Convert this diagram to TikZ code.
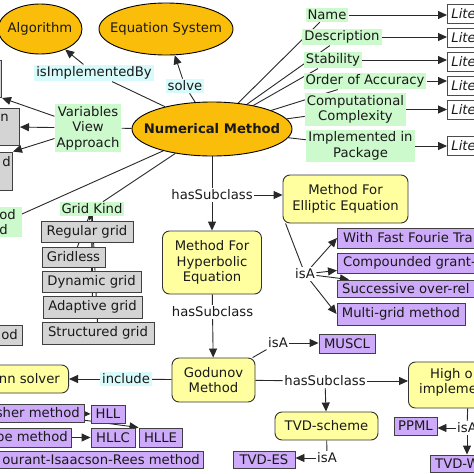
\documentclass[tikz,border=0pt]{standalone}
\usepackage{fontspec}
\setmainfont{DejaVu Sans}
\usetikzlibrary{shapes.geometric,arrows.meta}
\definecolor{ellfill}{RGB}{250,190,10}
\definecolor{yfill}{RGB}{255,255,160}
\definecolor{gfill}{RGB}{205,250,205}
\definecolor{cfill}{RGB}{215,250,250}
\definecolor{grfill}{RGB}{212,212,212}
\definecolor{pfill}{RGB}{205,170,250}
\definecolor{edgec}{RGB}{40,40,40}
\definecolor{txtc}{RGB}{25,25,25}
\pgfdeclarelayer{bglayer}
\pgfdeclarelayer{edges}
\pgfsetlayers{bglayer,edges,main}
\begin{document}
\begin{tikzpicture}[x=1pt,y=-1pt, font=\fontsize{13.2}{15.5}\selectfont, text=txtc,
 ellnode/.style={ellipse, draw=black, line width=0.9pt, fill=ellfill, inner sep=0pt},
 ybox/.style={rectangle, rounded corners=7pt, draw=black!80, line width=0.9pt, fill=yfill, align=center, inner sep=0pt},
 gbox/.style={rectangle, draw=black!75, line width=0.9pt, fill=grfill, inner sep=0pt},
 pbox/.style={rectangle, draw=black!75, line width=0.9pt, fill=pfill, inner sep=0pt},
 lbox/.style={rectangle, draw=black!70, line width=0.8pt, fill=white, anchor=west, text width=44pt, align=left, inner xsep=4pt, inner ysep=0pt, minimum height=19pt, font=\fontsize{13.2}{15.5}\selectfont\itshape},
 glab/.style={fill=gfill, inner sep=2pt, align=center},
 clab/.style={fill=cfill, inner sep=2pt},
 wlab/.style={fill=white, inner sep=1.5pt},
 txt/.style={inner sep=0pt},
 conn/.style={draw=edgec, line width=0.9pt},
 arr/.style={conn, -{Triangle[length=9pt,width=8pt]}}
]
\useasboundingbox (0,0) rectangle (474,474);
\begin{pgfonlayer}{bglayer}
\fill[white] (0,0) rectangle (474,474);
\end{pgfonlayer}

% ellipses
\node[ellnode, minimum width=84pt, minimum height=50pt] (alg) at (40,29) {};
\node[txt] (algt) at (alg) {Algorithm};
\node[ellnode, minimum width=134pt, minimum height=52pt] (eqs) at (166,29) {};
\node[txt] (eqst) at (eqs) {Equation System};
\node[ellnode, minimum width=160pt, minimum height=54pt] (nm) at (212,129) {};
\node[txt, font=\fontsize{13.2}{15.5}\selectfont\bfseries] (nmt) at (nm) {Numerical Method};

% top labels
\node[clab] (isimp) at (94,73) {isImplementedBy};
\node[clab] (solve) at (185,86) {solve};

% right property labels
\node[glab] (name) at (327,15) {Name};
\node[glab] (desc) at (342,37) {Description};
\node[glab] (stab) at (333,60) {Stability};
\node[glab] (order) at (365,81) {Order of Accuracy};
\node[glab] (compx) at (355.5,109.5) {Computational\\Complexity};
\node[glab] (impl) at (360.5,146) {Implemented in\\Package};

\node[lbox] (l1) at (447,14) {Lite};
\node[lbox] (l2) at (447,38) {Lite};
\node[lbox] (l3) at (447,62) {Lite};
\node[lbox] (l4) at (447,86) {Lite};
\node[lbox] (l5) at (447,110) {Lite};
\node[lbox] (l6) at (447,146) {Lite};

% left side
\node[glab] (vva) at (88,128) {Variables\\View\\Approach};
\node[gbox, minimum width=80pt, minimum height=37pt, anchor=east] (boxtop) at (2,79) {};
\node[gbox, minimum width=80pt, minimum height=37pt, anchor=east] (boxn) at (20,126.5) {};
\node[txt, anchor=east] (boxnt) at (9,118) {n};
\node[gbox, minimum width=80pt, minimum height=38pt, anchor=east] (boxd) at (13,171) {};
\node[txt, anchor=east] (boxdt) at (11,162) {d};
\node[glab, minimum width=80pt, minimum height=30pt, anchor=east] (dmeth) at (22,222) {};
\node[txt, anchor=east] (dmetha) at (16,215) {od};
\node[txt, anchor=east] (dmethb) at (8,230) {d};
\node[gbox, minimum width=80pt, minimum height=20pt, anchor=east] (odbox) at (23,335) {};
\node[txt, anchor=east] (odboxt) at (18,335) {od};

% grid kinds
\node[glab] (gk) at (92,209) {Grid Kind};
\node[gbox, minimum width=92pt, minimum height=21pt] (g1) at (87,231.5) {Regular grid};
\node[gbox, minimum width=63pt, minimum height=20pt] (g2) at (73.5,257) {Gridless};
\node[gbox, minimum width=99pt, minimum height=21pt] (g3) at (91.5,281.5) {Dynamic grid};
\node[gbox, minimum width=99pt, minimum height=22pt] (g4) at (92.5,307) {Adaptive grid};
\node[gbox, minimum width=112pt, minimum height=22pt] (g5) at (98,333) {Structured grid};

% middle column
\node[wlab] (hs1) at (212,195) {hasSubclass};
\node[ybox, minimum width=99pt, minimum height=63pt] (hyp) at (212,262.5) {Method For\\Hyperbolic\\Equation};
\node[ybox, minimum width=125pt, minimum height=48pt] (ellip) at (345.5,199) {Method For\\Elliptic Equation};
\node[wlab] (hs2) at (212.5,312) {hasSubclass};
\node[ybox, minimum width=83pt, minimum height=44pt] (god) at (213.5,380) {Godunov\\Method};
\node[wlab] (isa1) at (278,343) {isA};
\node[pbox, minimum width=56pt, minimum height=19pt] (muscl) at (347,343.5) {MUSCL};
\node[clab] (incl) at (126,379) {include};
\node[ybox, minimum width=100pt, minimum height=28pt, anchor=east] (riem) at (69,379) {};
\node[txt, anchor=east] (riemt) at (60,379) {nn solver};
\node[wlab] (hs3) at (325,381) {hasSubclass};
\node[ybox, minimum width=120pt, minimum height=46pt, anchor=west] (high) at (408,385) {};
\node[txt, anchor=west] (higha) at (430,375) {High o};
\node[txt, anchor=west] (highb) at (419,390) {impleme};
\node[ybox, minimum width=103pt, minimum height=28pt] (tvd) at (326.5,426) {TVD-scheme};
\node[wlab] (isa2) at (327,458) {isA};
\node[pbox, minimum width=62pt, minimum height=17pt] (tvdes) at (264,459.5) {TVD-ES};
\node[pbox, minimum width=43pt, minimum height=18pt] (ppml) at (415.5,426) {PPML};
\node[wlab] (isa3) at (467,428) {isA};
\node[pbox, minimum width=80pt, minimum height=17pt, anchor=west] (tvdw) at (430,463.5) {};
\node[txt, anchor=west] (tvdwt) at (435,463.5) {TVD-W};

% bottom-left purple boxes
\node[pbox, minimum width=100pt, minimum height=18pt, anchor=east] (sher) at (85,413.5) {};
\node[txt, anchor=east] (shert) at (80,413) {sher method};
\node[pbox, minimum width=34pt, minimum height=18pt] (hll) at (108,414) {HLL};
\node[pbox, minimum width=100pt, minimum height=19pt, anchor=east] (be) at (72,437.5) {};
\node[txt, anchor=east] (bet) at (68,437) {be method};
\node[pbox, minimum width=44pt, minimum height=19pt] (hllc) at (113,437.5) {HLLC};
\node[pbox, minimum width=43pt, minimum height=19pt] (hlle) at (160.5,437.5) {HLLE};
\node[pbox, minimum width=220pt, minimum height=17pt, anchor=east] (cir) at (204,460) {};
\node[txt, anchor=east] (cirt) at (200,460) {ourant-Isaacson-Rees method};

% elliptic children
\node[wlab] (isa4) at (305,274) {isA};
\node[pbox, minimum width=150pt, minimum height=20pt, anchor=west] (fft) at (337,238) {};
\node[txt, anchor=west] (fftt) at (343,238) {With Fast Fourie Tra};
\node[pbox, minimum width=150pt, minimum height=20pt, anchor=west] (cgr) at (337,263) {};
\node[txt, anchor=west] (cgrt) at (343,263) {Compounded grant-};
\node[pbox, minimum width=150pt, minimum height=17pt, anchor=west] (sor) at (337,288.5) {};
\node[txt, anchor=west] (sort) at (342,288.5) {Successive over-rel};
\node[pbox, minimum width=128pt, minimum height=22pt] (mg) at (401,314) {Multi-grid method};

\begin{pgfonlayer}{edges}
\draw[conn] (nm) -- (isimp);
\draw[arr] (isimp) -- (alg);
\draw[conn] (nm) -- (solve);
\draw[arr] (solve) -- (eqs);
\foreach \t in {name,desc,stab,order,compx,impl} \draw[conn] (nm) -- (\t);
\draw[arr] (name.east) -- (name.east -| l1.west);
\draw[arr] (desc.east) -- (desc.east -| l2.west);
\draw[arr] (stab.east) -- (stab.east -| l3.west);
\draw[arr] (order.east) -- (order.east -| l4.west);
\draw[arr] (compx.east) -- (compx.east -| l5.west);
\draw[arr] (impl.east) -- (impl.east -| l6.west);

\draw[conn] (nm) -- (vva);
\draw[arr] (vva) -- (boxtop.south east);
\draw[arr] (vva) -- (boxn);
\draw[arr] (vva) -- (boxd.north east);
\draw[conn] (nm) -- ([yshift=8pt]dmeth.east);

\draw[conn] (nm) -- (gk);
\draw[arr] (gk) -- (g1);
\draw[conn] (gk) -- (g2.center);
\draw[conn] (gk) -- (g3.center);
\draw[conn] (gk) -- (g4.center);
\draw[conn] (gk) -- (g5.center);

\draw[conn] (nm) -- (hs1);
\draw[arr] (hs1) -- (hyp);
\draw[arr] (hs1) -- (hs1 -| ellip.west);
\draw[conn] (hyp) -- (hs2);
\draw[arr] (hs2) -- (god);
\draw[conn] (god) -- (isa1);
\draw[arr] (isa1) -- (isa1 -| muscl.west);
\draw[conn] (god) -- (incl);
\draw[arr] (incl) -- (incl -| riem.east);
\draw[conn] (god) -- (hs3);
\draw[arr] (hs3) -- (hs3 -| high.west);
\draw[arr] (hs3) -- (tvd);
\draw[conn] (tvd) -- (isa2);
\draw[arr] (isa2) -- (isa2 -| tvdes.east);
\draw[conn] (high) -- (isa3);
\draw[arr] (isa3) -- (isa3 -| ppml.east);
\draw[arr] (isa3) -- (isa3 |- tvdw.north);

\draw[conn] ([xshift=3pt]ellip.south west) -- (isa4);
\draw[arr] (isa4) -- (fft.west);
\draw[arr] (isa4) -- ([yshift=3pt]cgr.south west);
\draw[arr] (isa4) -- ([xshift=12pt]sor.north west);
\draw[arr] (isa4) -- (mg.west);

\draw[arr] (sher) -- (hll);
\draw[arr] (sher) -- (hlle.north west);
\draw[arr] (be) -- (hllc);
\end{pgfonlayer}
\end{tikzpicture}
\end{document}
